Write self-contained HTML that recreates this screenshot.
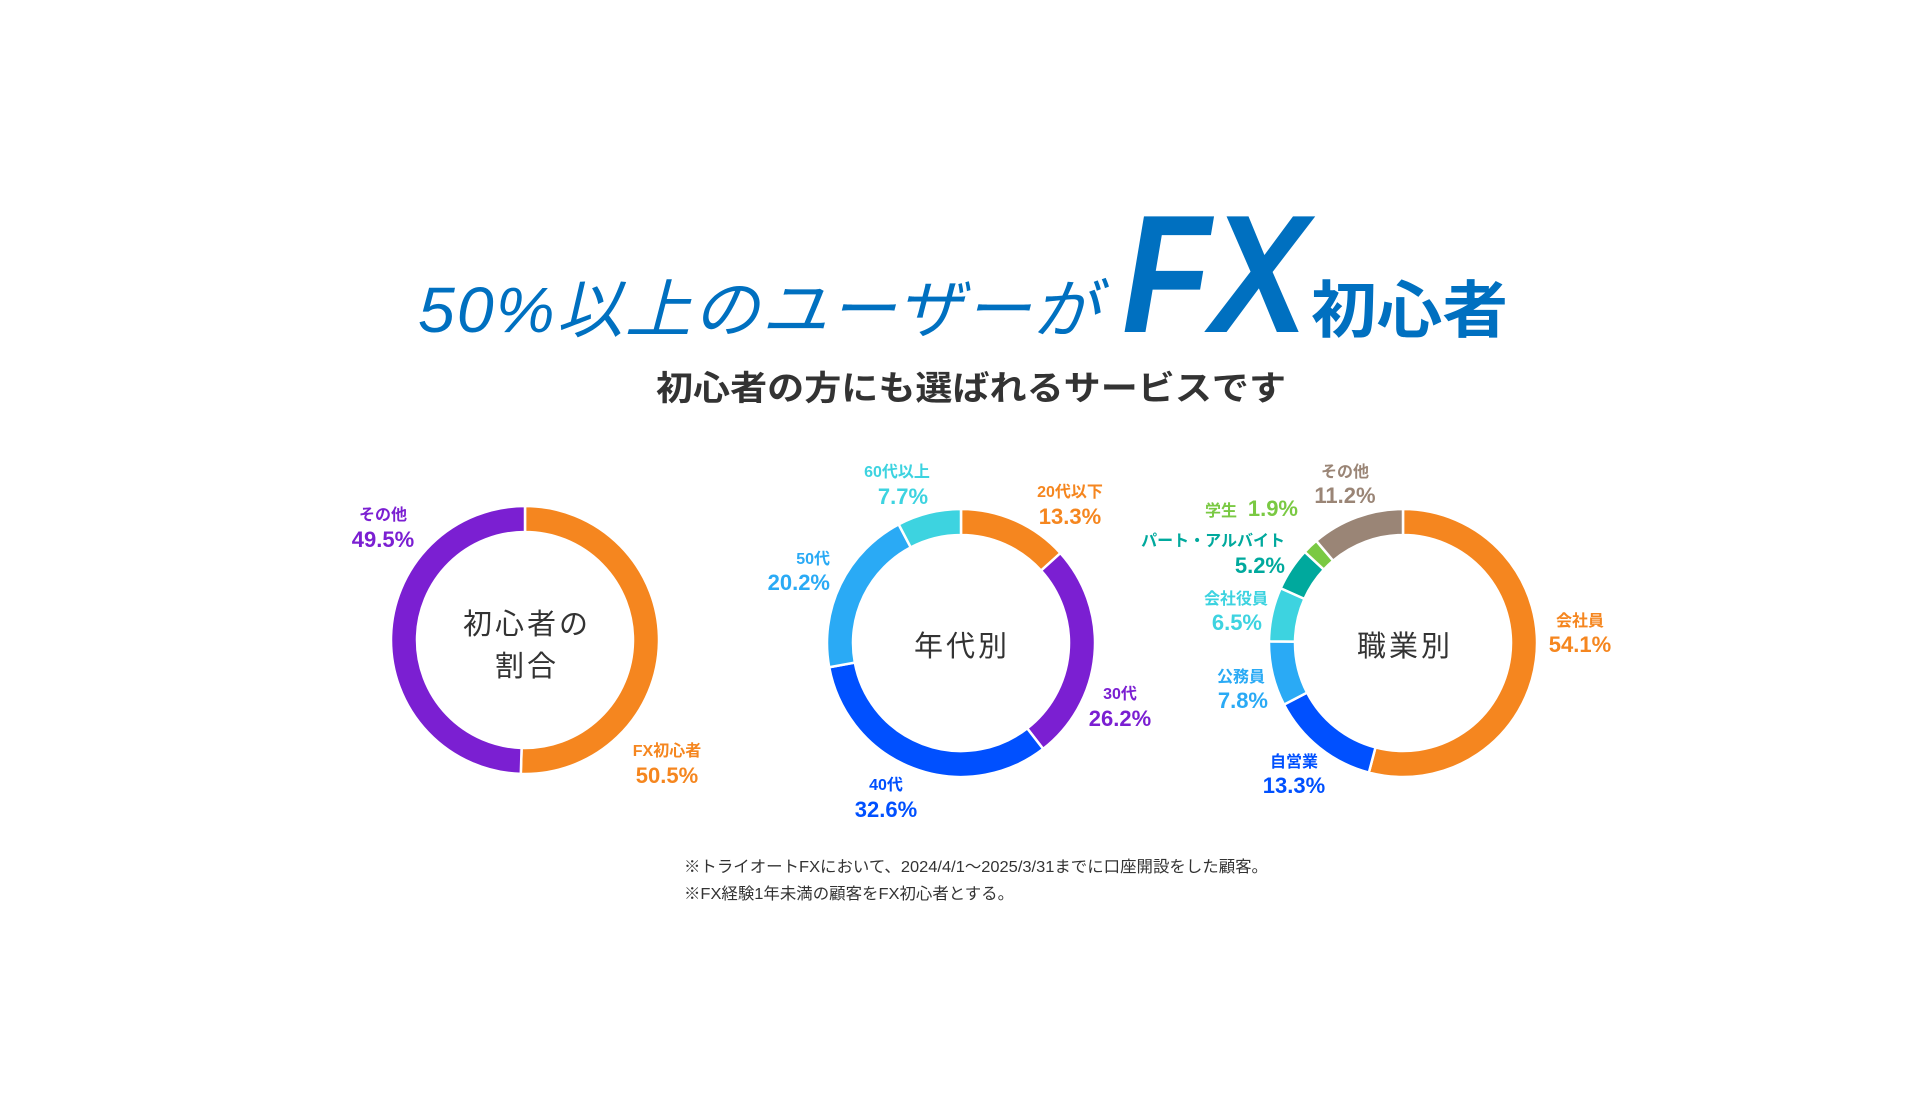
<!DOCTYPE html>
<html lang="ja"><head><meta charset="utf-8">
<style>
html,body{margin:0;padding:0;background:#fff;}
body{width:1920px;height:1100px;overflow:hidden;font-family:"Liberation Sans","Noto Sans CJK JP",sans-serif;}
svg text{font-family:"Liberation Sans","Noto Sans CJK JP",sans-serif;}
.lb{font-size:16px;font-weight:700;}
.vl{font-size:22px;font-weight:700;}
.ctr{font-size:29px;fill:#333;letter-spacing:3px;}
</style></head>
<body>
<svg id="chart" width="1920" height="1100" viewBox="0 0 1920 1100" xmlns="http://www.w3.org/2000/svg">
  <g>
    <text x="418" y="332" font-size="64" fill="#0070c0" font-style="italic" letter-spacing="2" textLength="683" lengthAdjust="spacingAndGlyphs">50%以上のユーザーが</text>
    <text x="1122" y="332" font-size="168" font-weight="700" font-style="italic" fill="#0070c0" textLength="186" lengthAdjust="spacingAndGlyphs">FX</text>
    <text x="1311" y="332" font-size="62" font-weight="700" fill="#0070c0" textLength="197" lengthAdjust="spacingAndGlyphs">初心者</text>
  </g>
  <text x="971" y="400" text-anchor="middle" font-size="34" font-weight="700" fill="#333" textLength="630" lengthAdjust="spacingAndGlyphs">初心者の方にも選ばれるサービスです</text>

  <g id="d1"></g>
  <g id="d2"></g>
  <g id="d3"></g>

  <g>
    <text class="ctr" x="527" y="634" text-anchor="middle">初心者の</text>
    <text class="ctr" x="527" y="676" text-anchor="middle">割合</text>
    <text class="ctr" x="962" y="656" text-anchor="middle">年代別</text>
    <text class="ctr" x="1405" y="656" text-anchor="middle">職業別</text>
  </g>

  <g font-size="16" fill="#333">
    <text x="684" y="872" textLength="584" lengthAdjust="spacingAndGlyphs">※トライオートFXにおいて、2024/4/1～2025/3/31までに口座開設をした顧客。</text>
    <text x="684" y="899" textLength="330" lengthAdjust="spacingAndGlyphs">※FX経験1年未満の顧客をFX初心者とする。</text>
  </g>
</svg>
<script>
const d1Categories = ["FX初心者", "その他"];
const d1Values = [50.5, 49.5];
const d2Categories = ["20代以下", "30代", "40代", "50代", "60代以上"];
const d2Values = [13.3, 26.2, 32.6, 20.2, 7.7];
const d3Categories = ["会社員", "自営業", "公務員", "会社役員", "パート・アルバイト", "学生", "その他"];
const d3Values = [54.1, 13.3, 7.8, 6.5, 5.2, 1.9, 11.2];

const NS = "http://www.w3.org/2000/svg";
function pt(cx, cy, r, frac) {
  const a = frac * 2 * Math.PI - Math.PI / 2;
  return [cx + r * Math.cos(a), cy + r * Math.sin(a)];
}
function donut(gid, cx, cy, R, r, cats, vals, colors, labels) {
  const g = document.getElementById(gid);
  const total = vals.reduce((a, b) => a + b, 0);
  let acc = 0;
  vals.forEach((v, i) => {
    const f0 = acc / total, f1 = (acc + v) / total;
    acc += v;
    const [x0, y0] = pt(cx, cy, R, f0), [x1, y1] = pt(cx, cy, R, f1);
    const [x2, y2] = pt(cx, cy, r, f1), [x3, y3] = pt(cx, cy, r, f0);
    const large = (f1 - f0) > 0.5 ? 1 : 0;
    const p = document.createElementNS(NS, "path");
    p.setAttribute("d", `M${x0},${y0}A${R},${R} 0 ${large} 1 ${x1},${y1}L${x2},${y2}A${r},${r} 0 ${large} 0 ${x3},${y3}Z`);
    p.setAttribute("fill", colors[i]);
    p.setAttribute("stroke", "#fff");
    p.setAttribute("stroke-width", "2.5");
    
    
    g.appendChild(p);
    const L = labels[i];
    const t1 = document.createElementNS(NS, "text");
    t1.setAttribute("x", L[0]); t1.setAttribute("y", L[1]);
    t1.setAttribute("text-anchor", L[2]);
    t1.setAttribute("class", "lb");
    t1.setAttribute("fill", colors[i]);
    t1.textContent = cats[i];
    
    
    g.appendChild(t1);
    const t2 = document.createElementNS(NS, "text");
    t2.setAttribute("x", L[3]); t2.setAttribute("y", L[4]);
    t2.setAttribute("text-anchor", L[2]);
    t2.setAttribute("class", "vl");
    t2.setAttribute("fill", colors[i]);
    t2.textContent = v.toFixed(1) + "%";
    
    
    g.appendChild(t2);
  });
}
const OR = "#f5861f", PU = "#7b1fd2", CY = "#3dd3e0", LB = "#2aaaf5", BL = "#0050ff", TE = "#00a99d", GR = "#7ac943", BR = "#9a8576";
donut("d1", 525, 640, 134, 108, d1Categories, d1Values, [OR, PU],
  [[667, 756, "middle", 667, 783], [383, 520, "middle", 383, 547]]);
donut("d2", 961, 643, 134, 108, d2Categories, d2Values, [OR, PU, BL, LB, CY],
  [[1070, 497, "middle", 1070, 524], [1120, 699, "middle", 1120, 726], [886, 790, "middle", 886, 817], [830, 564, "end", 830, 590], [897, 477, "middle", 903, 504]]);
donut("d3", 1403, 643, 134, 108, d3Categories, d3Values, [OR, BL, LB, CY, TE, GR, BR],
  [[1580, 626, "middle", 1580, 652], [1294, 767, "middle", 1294, 793], [1265, 682, "end", 1268, 708], [1268, 604, "end", 1262, 630], [1285, 546, "end", 1285, 573], [1240, 516, "end", 1298, 516], [1345, 477, "middle", 1345, 503]]);
// tweak student label: name and value on same line
(function(){
  const g = document.getElementById("d3");
  const ts = g.querySelectorAll("text");
  ts[10].setAttribute("x", 1237);
  ts[11].setAttribute("text-anchor", "end");
  ts[13].setAttribute("font-weight", "400");
  ts[12].setAttribute("font-weight", "700");
})();
</script>
</body></html>
